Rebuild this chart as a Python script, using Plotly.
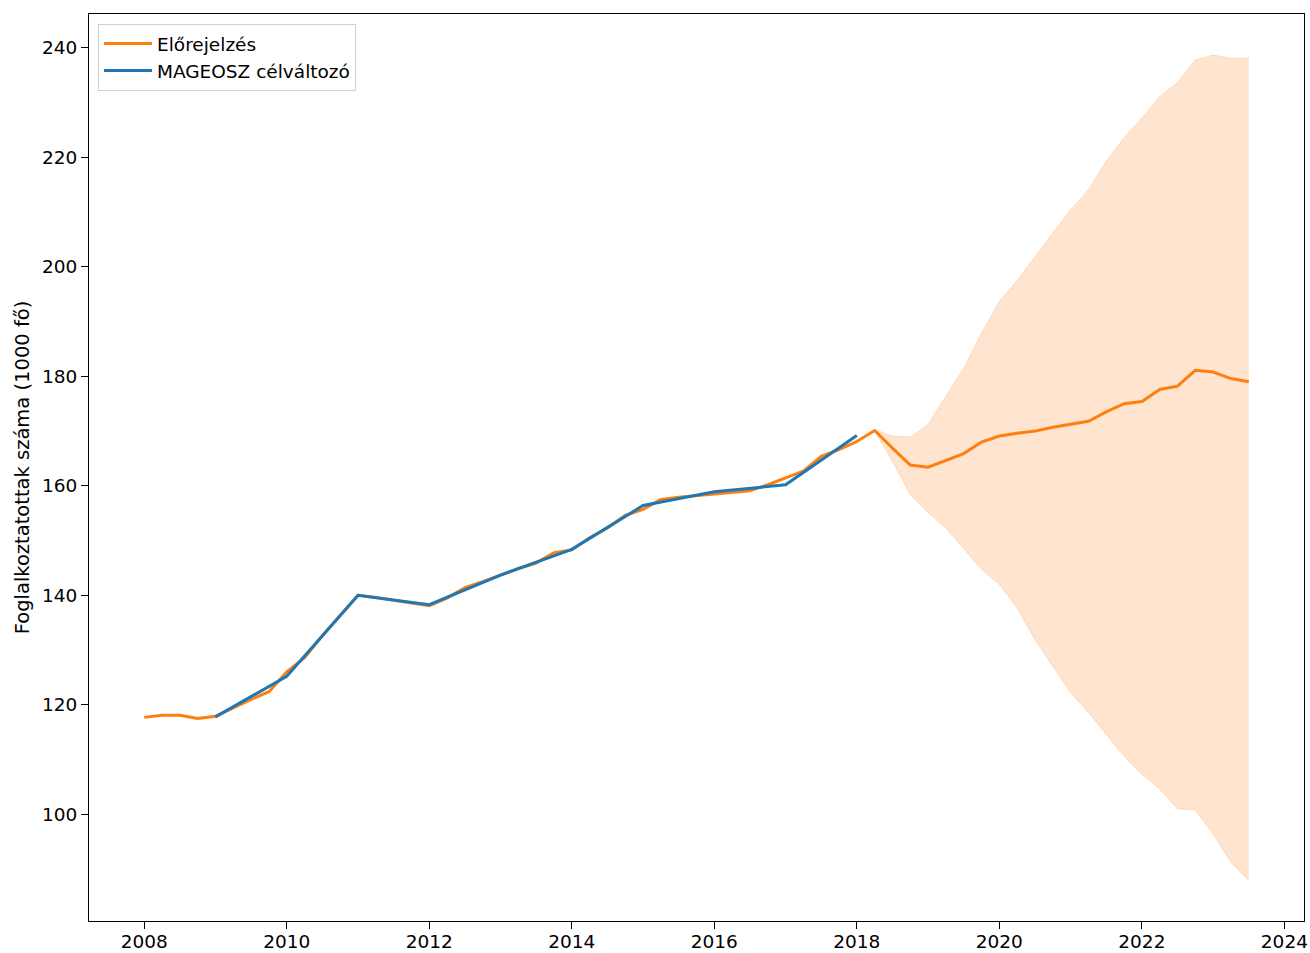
import plotly.graph_objects as go

# ---- data ----
fit_x = [2008 + 0.25 * i for i in range(63)]  # quarterly 2008.00 .. 2023.50
fit_y = [117.7, 118.1, 118.1, 117.5, 117.9, 119.5, 121.0, 122.4,
         126.0, 128.6, 132.6, 136.3, 140.0, 139.6, 139.1, 138.7,
         138.1, 139.5, 141.4, 142.5, 143.7, 144.9, 145.9, 147.8,
         148.3, 150.5, 152.3, 154.6, 155.7, 157.5, 157.9, 158.2,
         158.5, 158.8, 159.1, 160.2, 161.5, 162.7, 165.4, 166.6,
         168.1,
         170.1, 166.9, 163.8, 163.4, 164.7, 165.9, 168.0, 169.1,
         169.6, 170.0, 170.7, 171.2, 171.8, 173.5, 175.0, 175.4,
         177.6, 178.2, 181.1, 180.8, 179.6, 179.0]

band_x = [2018.25 + 0.25 * i for i in range(22)]
band_upper = [170.3, 169.1, 168.9, 171.2, 176.4, 181.5, 187.9, 193.7,
              197.5, 201.9, 206.2, 210.4, 214.1, 219.3, 223.6, 227.2,
              231.1, 233.7, 237.8, 238.7, 238.1, 238.1]
band_lower = [170.0, 164.5, 158.4, 155.1, 152.3, 148.4, 144.7, 142.0,
              137.7, 131.9, 127.1, 122.2, 118.6, 114.6, 110.6, 107.3,
              104.6, 101.0, 100.8, 96.4, 91.2, 87.9]

target_x = [2009, 2010, 2011, 2012, 2013, 2014, 2015, 2016, 2017, 2018]
target_y = [117.8, 125.2, 140.0, 138.3, 143.7, 148.4, 156.4, 158.9, 160.2, 169.2]

x_ticks = [2008, 2010, 2012, 2014, 2016, 2018, 2020, 2022, 2024]
y_ticks = [100, 120, 140, 160, 180, 200, 220, 240]

ORANGE = "#ff7f0e"
BLUE = "#1f77b4"
BAND = "rgba(255,127,14,0.2)"
FS = 18.5

fig = go.Figure()
fig.add_trace(go.Scatter(x=band_x, y=band_upper, mode="lines",
                         line=dict(color=BAND, width=1), showlegend=False,
                         hoverinfo="skip"))
fig.add_trace(go.Scatter(x=band_x, y=band_lower, mode="lines", fill="tonexty",
                         fillcolor=BAND, line=dict(color=BAND, width=1),
                         showlegend=False, hoverinfo="skip"))
fig.add_trace(go.Scatter(x=fit_x, y=fit_y, mode="lines", name="Előrejelzés",
                         legendgroup="a",
                         line=dict(color=ORANGE, width=3)))
fig.add_trace(go.Scatter(x=target_x, y=target_y, mode="lines",
                         name="MAGEOSZ célváltozó", legendgroup="b",
                         line=dict(color=BLUE, width=3)))

axis_common = dict(showline=True, linecolor="black", linewidth=1.2, mirror=True,
                   ticks="outside", ticklen=7, tickwidth=1.2, tickcolor="black",
                   showgrid=False, zeroline=False, automargin=False,
                   tickfont=dict(family="DejaVu Sans", size=FS, color="black"))

fig.update_layout(
    width=1310, height=953,
    margin=dict(l=89, r=6, t=14, b=32),
    paper_bgcolor="white", plot_bgcolor="white",
    font=dict(family="DejaVu Sans", size=FS, color="black"),
    xaxis=dict(range=[2007.225, 2024.275], tickvals=x_ticks,
               ticklabelstandoff=-3, **axis_common),
    yaxis=dict(range=[80.5, 246.2], tickvals=y_ticks,
               title=dict(text="Foglalkoztatottak száma (1000 fő)",
                          font=dict(family="DejaVu Sans", size=19.5, color="black"),
                          standoff=7),
               **axis_common),
    legend=dict(x=0.0074, y=0.989, xanchor="left", yanchor="top",
                bgcolor="rgba(255,255,255,0.8)", bordercolor="#d0d0d0",
                borderwidth=1, font=dict(family="DejaVu Sans", size=FS),
                traceorder="normal", tracegroupgap=5, itemwidth=48),
    showlegend=True,
)

fig.write_html("out.html", config={"displayModeBar": False},
               post_script="document.body.style.margin='0';document.body.style.overflow='hidden';")
